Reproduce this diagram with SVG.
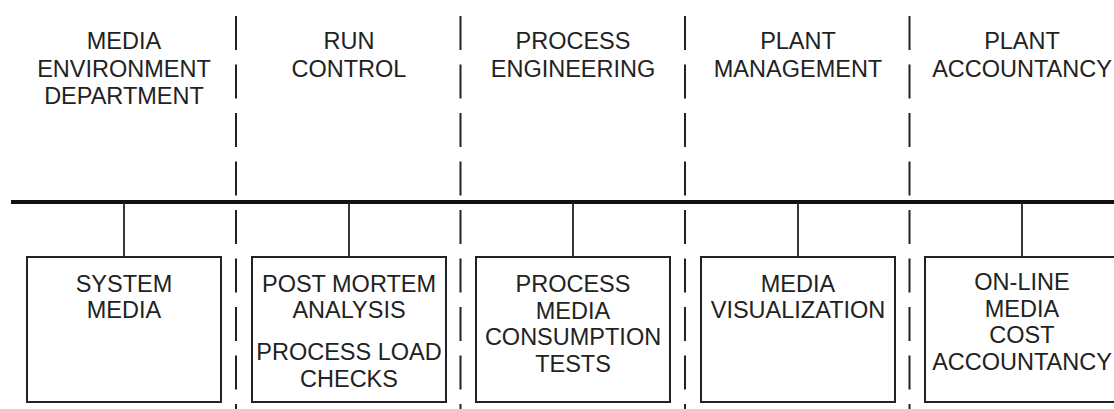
<svg xmlns="http://www.w3.org/2000/svg" width="1114" height="409" viewBox="0 0 1114 409">
<style>
text{font-family:"Liberation Sans",Arial,sans-serif;font-size:23.5px;fill:#222;text-anchor:middle}
.box{fill:#fff;stroke:#222;stroke-width:2}
.dash{stroke:#222;stroke-width:2;stroke-dasharray:34 14.5;fill:none}
.stem{stroke:#222;stroke-width:1.8;fill:none}
.bus{stroke:#111;stroke-width:4;fill:none}
</style>
<rect width="1114" height="409" fill="#fff"/>
<g id="separators">
<line class="dash" x1="236" y1="16" x2="236" y2="409"/>
<line class="dash" x1="460.5" y1="16" x2="460.5" y2="409"/>
<line class="dash" x1="685" y1="16" x2="685" y2="409"/>
<line class="dash" x1="909.5" y1="16" x2="909.5" y2="409"/>
</g>
<g id="headers">
<text x="124" y="49">MEDIA</text>
<text x="124" y="77">ENVIRONMENT</text>
<text x="124" y="104">DEPARTMENT</text>
<text x="349" y="49">RUN</text>
<text x="349" y="77">CONTROL</text>
<text x="573" y="49">PROCESS</text>
<text x="573" y="77">ENGINEERING</text>
<text x="798" y="49">PLANT</text>
<text x="798" y="77">MANAGEMENT</text>
<text x="1022" y="49">PLANT</text>
<text x="1022" y="77">ACCOUNTANCY</text>
</g>
<g id="connectors">
<line class="bus" x1="11" y1="202" x2="1114" y2="202"/>
<line class="stem" x1="124" y1="202" x2="124" y2="257"/>
<line class="stem" x1="349" y1="202" x2="349" y2="257"/>
<line class="stem" x1="573" y1="202" x2="573" y2="257"/>
<line class="stem" x1="798" y1="202" x2="798" y2="257"/>
<line class="stem" x1="1022" y1="202" x2="1022" y2="257"/>
</g>
<g id="system-media">
<rect class="box" x="27" y="257" width="194" height="145"/>
<text x="124" y="292">SYSTEM</text>
<text x="124" y="318">MEDIA</text>
</g>
<g id="post-mortem">
<rect class="box" x="252" y="257" width="194" height="145"/>
<text x="349" y="292">POST MORTEM</text>
<text x="349" y="318">ANALYSIS</text>
<text x="349" y="360">PROCESS LOAD</text>
<text x="349" y="387">CHECKS</text>
</g>
<g id="process-media">
<rect class="box" x="476" y="257" width="194" height="145"/>
<text x="573" y="292">PROCESS</text>
<text x="573" y="318.5">MEDIA</text>
<text x="573" y="345">CONSUMPTION</text>
<text x="573" y="371.5">TESTS</text>
</g>
<g id="media-visualization">
<rect class="box" x="701" y="257" width="194" height="145"/>
<text x="798" y="292">MEDIA</text>
<text x="798" y="318">VISUALIZATION</text>
</g>
<g id="cost-accountancy">
<rect class="box" x="925" y="257" width="194" height="145"/>
<text x="1022" y="290">ON-LINE</text>
<text x="1022" y="316.5">MEDIA</text>
<text x="1022" y="343">COST</text>
<text x="1022" y="369.5">ACCOUNTANCY</text>
</g>
</svg>
